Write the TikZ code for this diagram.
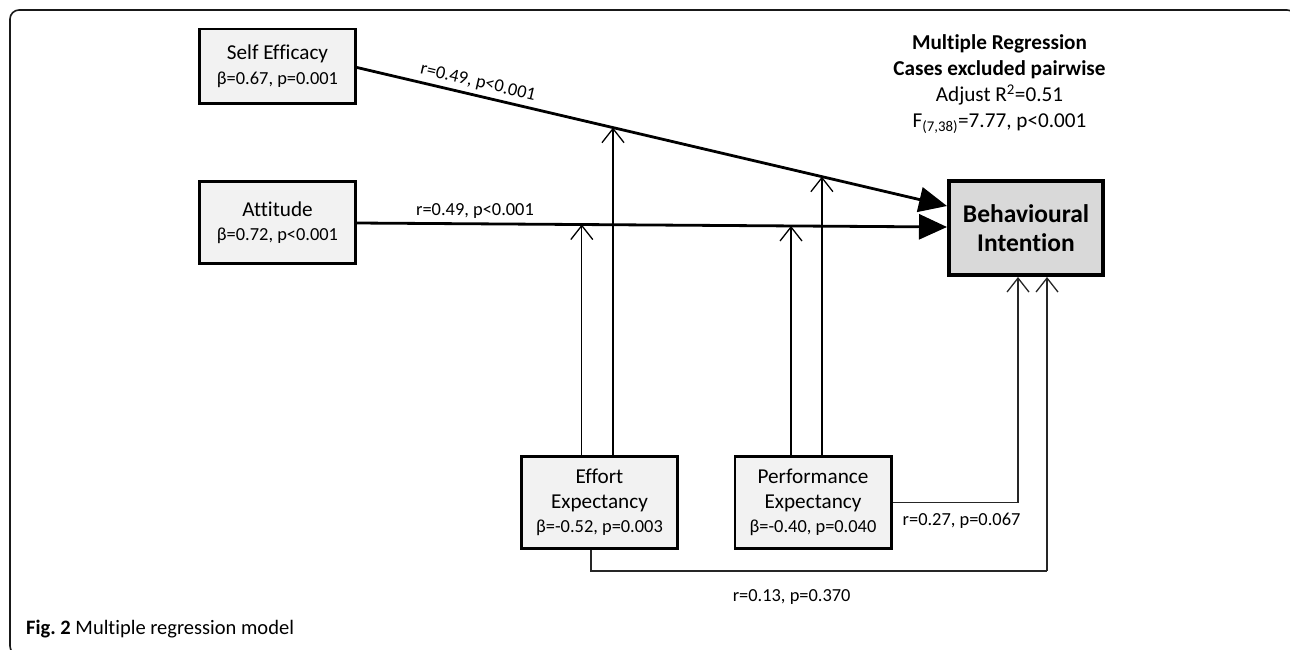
\documentclass[tikz,border=0pt]{standalone}
\usepackage{fontspec}
\setmainfont{Carlito}[Ligatures={NoCommon}]
\usetikzlibrary{arrows.meta,calc}
\definecolor{boxgray}{HTML}{F2F2F2}
\definecolor{bigray}{HTML}{D9D9D9}
\newcommand\namefont{\fontsize{21.2}{24.5}\selectfont}
\newcommand\statfont{\fontsize{18.4}{24.5}\selectfont}
\begin{document}
\begin{tikzpicture}[x=1pt,y=-1pt,
  box/.style={draw=black, line width=2.6pt, fill=boxgray, minimum width=156.4pt,
    align=center, inner sep=0pt, font=\namefont},
  bigbox/.style={draw=black, line width=4pt, fill=bigray, minimum width=154pt,
    minimum height=94pt, align=center, inner sep=0pt,
    font=\bfseries\fontsize{25.5}{29}\selectfont},
  lab/.style={font=\fontsize{18.4}{22}\selectfont, inner sep=2pt},
  mainarrow/.style={line width=2.8pt, -{Triangle[length=28pt,width=25pt]}},
  modarrow/.style={line width=1.3pt, -{Straight Barb[length=14pt,width=22pt]}},
  conn/.style={line width=1.4pt, draw=black!85},
  frameline/.style={line width=1.6pt, draw=black!90, rounded corners=9pt}
]
\useasboundingbox (0,0) rectangle (1290,649);
\clip (0,0) rectangle (1290,649);

% frame
\draw[frameline] (1296,30) -- (1296,10) -- (10,10) -- (10,655) -- (30,655);

% nodes
\node[box, minimum height=74.4pt] (se) at (277.5,66) {Self Efficacy\\\statfont β=0.67, p=0.001};
\node[box, minimum height=82.4pt] (at) at (277.5,222.5) {Attitude\\\statfont β=0.72, p<0.001};
\node[bigbox] (bi) at (1026,228) {Behavioural\\Intention};
\node[box, minimum height=92.4pt] (ee) at (599.5,502.5) {Effort\\Expectancy\\\statfont β=-0.52, p=0.003};
\node[box, minimum height=92.4pt] (pe) at (813,502.5) {Performance\\Expectancy\\\statfont β=-0.40, p=0.040};

\node[align=center, inner sep=0pt, font=\fontsize{21.2}{26}\selectfont] (hdr) at (999.5,84)
  {\textbf{Multiple Regression}\\\textbf{Cases excluded pairwise}\\Adjust R\textsuperscript{2}=0.51\\F\textsubscript{(7,38)}=7.77, p<0.001};

\node[anchor=west, inner sep=0pt, font=\fontsize{20.5}{24}\selectfont] (cap) at (26,629)
  {\textbf{Fig.\ 2} Multiple regression model};

% main paths
\coordinate (s1) at ([yshift=-1.5pt]se.east);
\coordinate (s2) at ([yshift=22pt]bi.west);
\coordinate (a1) at ([yshift=-0.5pt]at.east);
\coordinate (a2) at ([yshift=1pt]bi.west);

\draw[mainarrow] (s1) -- node[lab, sloped, above=2pt, pos=0.2] {r=0.49, p<0.001} (s2);
\draw[mainarrow] (a1) -- node[lab, above=2pt, pos=0.2] {r=0.49, p<0.001} (a2);

% moderator targets
\coordinate (m1) at ($(a1)!0.381!(a2)$);
\coordinate (m2) at ($(s1)!0.4339!(s2)$);
\coordinate (m3) at ($(a1)!0.7356!(a2)$);
\coordinate (m4) at ($(s1)!0.788!(s2)$);

\draw[modarrow] (ee.north -| m1) -- (m1);
\draw[modarrow] (ee.north -| m2) -- (m2);
\draw[modarrow] (pe.north -| m3) -- (m3);
\draw[modarrow] (pe.north -| m4) -- (m4);

% direct paths to behavioural intention
\coordinate (b1) at ([xshift=-8pt]bi.south);
\coordinate (b2) at ([xshift=21pt]bi.south);
\draw[conn] (pe.east) -- node[lab, below=8pt, pos=0.55] {r=0.27, p=0.067} (pe.east -| b1);
\draw[conn, modarrow] (pe.east -| b1) -- (b1);
\coordinate (e0) at ([xshift=-8.5pt]ee.south);
\coordinate (e1) at ($(e0)+(0,21)$);
\draw[conn] (e0) -- (e1) -- node[lab, below=16pt, pos=0.44] {r=0.13, p=0.370} (e1 -| b2);
\draw[conn, modarrow] (e1 -| b2) -- (b2);
\end{tikzpicture}
\end{document}
